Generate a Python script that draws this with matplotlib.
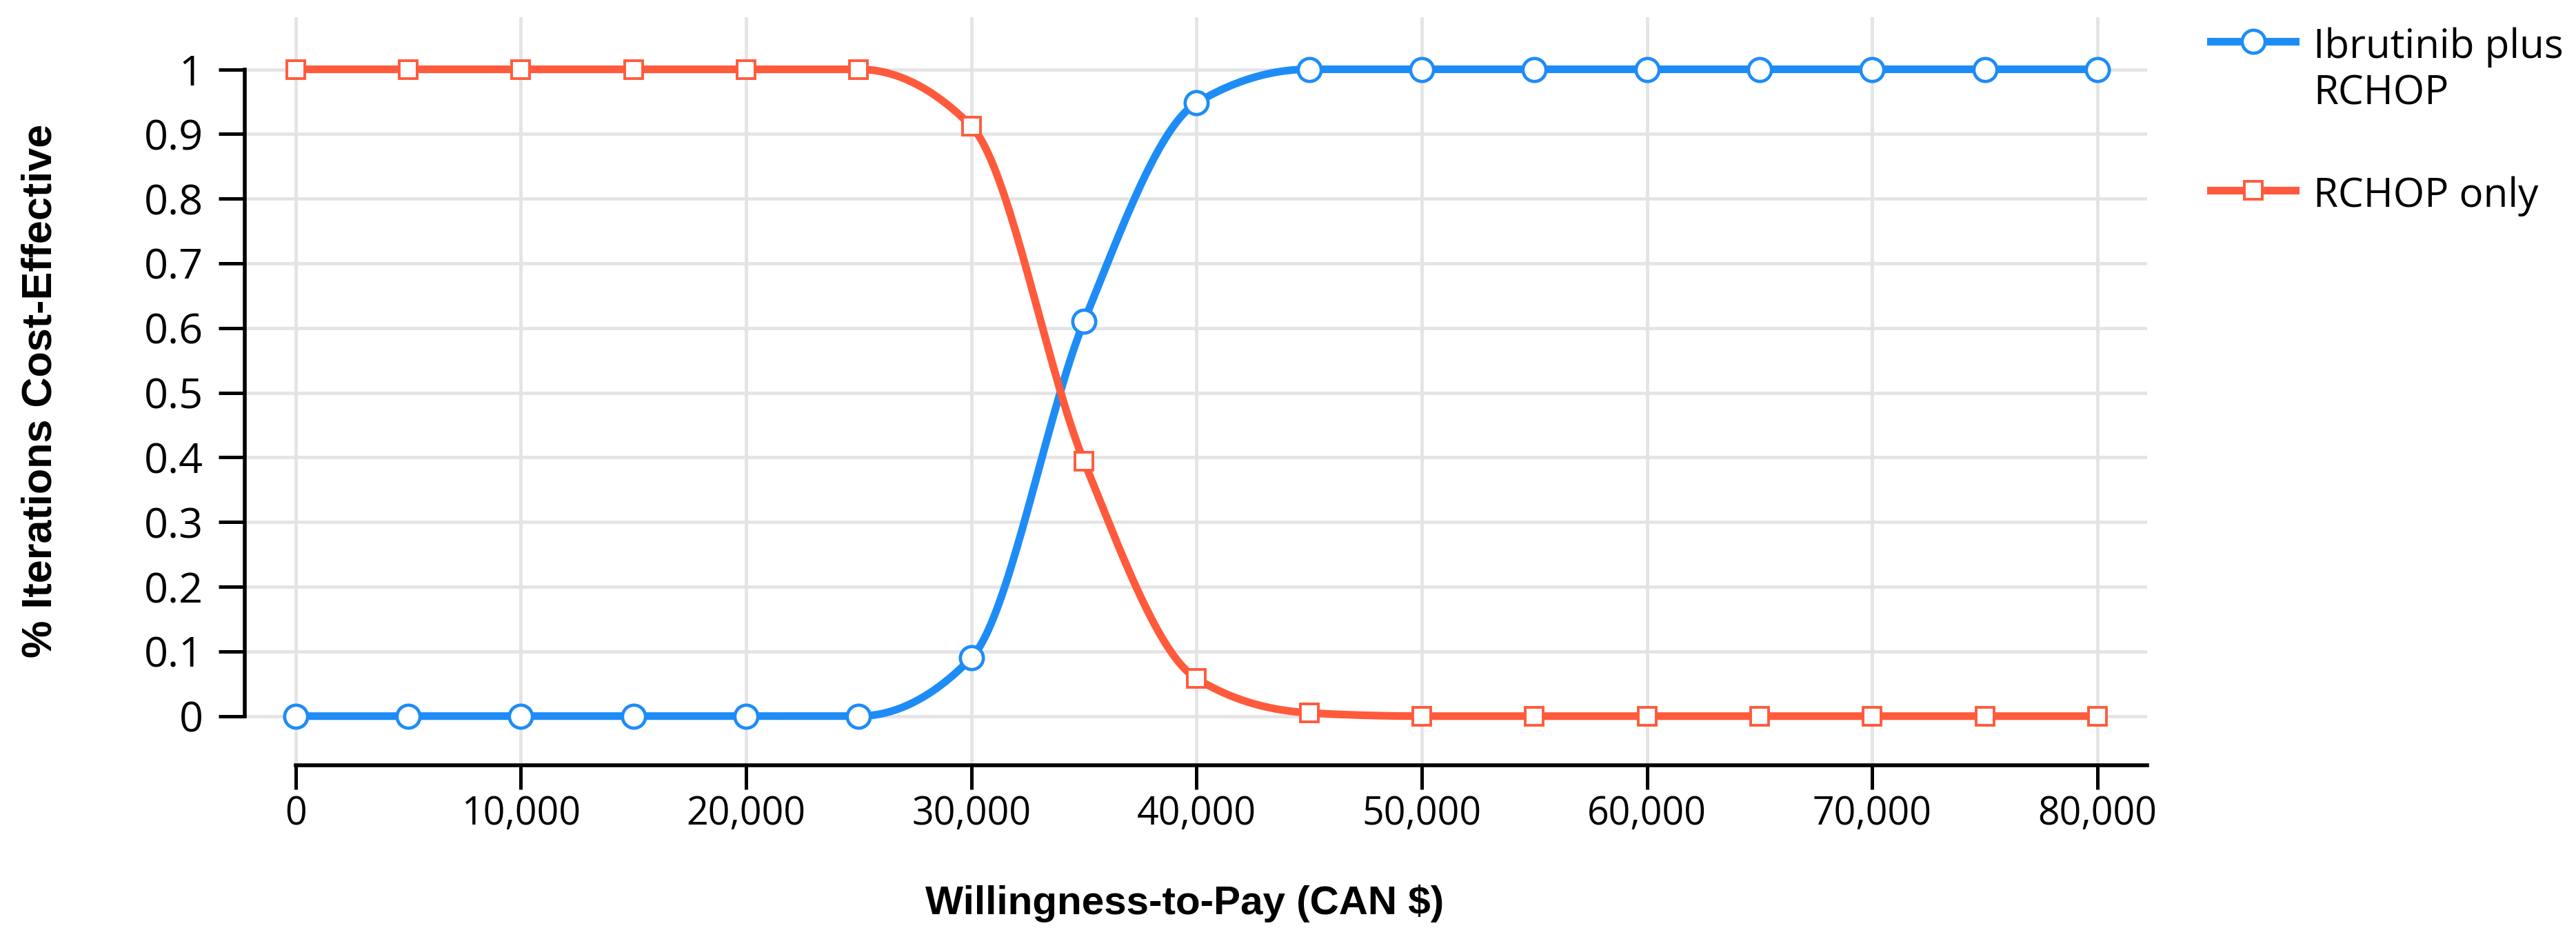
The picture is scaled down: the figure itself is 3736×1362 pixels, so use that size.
import numpy as np
import matplotlib.pyplot as plt
from matplotlib.ticker import FuncFormatter

# values
wtp = [0, 5000, 10000, 15000, 20000, 25000, 30000, 35000, 40000,
       45000, 50000, 55000, 60000, 65000, 70000, 75000, 80000]
ibrutinib_rchop = [0, 0, 0, 0, 0, 0, 0.09, 0.61, 0.948, 1.0,
                   1.0, 1.0, 1.0, 1.0, 1.0, 1.0, 1.0]
rchop_only = [1.0, 1.0, 1.0, 1.0, 1.0, 1.0, 0.912, 0.394, 0.058, 0.005,
              0, 0, 0, 0, 0, 0, 0]
series_names = ["Ibrutinib plus\nRCHOP", "RCHOP only"]
blue = "#1e8cf7"
red = "#ff5a3c"


def monotone_curve(x, y, n=40):
    # smooth monotone (d3 curveMonotoneX style) line through the points
    x = np.asarray(x, float)
    y = np.asarray(y, float)
    h = np.diff(x)
    s = np.diff(y) / h
    t = np.zeros_like(y)
    for i in range(1, len(x) - 1):
        p = (s[i - 1] * h[i] + s[i] * h[i - 1]) / (h[i - 1] + h[i])
        t[i] = (np.sign(s[i - 1]) + np.sign(s[i])) * min(abs(s[i - 1]), abs(s[i]), 0.5 * abs(p))
    t[0] = (3 * s[0] - t[1]) / 2
    t[-1] = (3 * s[-1] - t[-2]) / 2
    xs, ys = [], []
    for i in range(len(x) - 1):
        u = np.linspace(0, 1, n, endpoint=False)
        h00 = 2 * u**3 - 3 * u**2 + 1
        h10 = u**3 - 2 * u**2 + u
        h01 = -2 * u**3 + 3 * u**2
        h11 = u**3 - u**2
        xs.append(x[i] + u * h[i])
        ys.append(h00 * y[i] + h10 * h[i] * t[i] + h01 * y[i + 1] + h11 * h[i] * t[i + 1])
    xs.append([x[-1]])
    ys.append([y[-1]])
    return np.concatenate(xs), np.concatenate(ys)


fig = plt.figure(figsize=(18.68, 6.81), dpi=200)
ax = fig.add_axes([0.095, 0.185, 0.7385, 0.797])

for vals, name, col, mk, ms, mew in [(ibrutinib_rchop, series_names[0], blue, "o", 12, 1.7),
                                     (rchop_only, series_names[1], red, "s", 9.6, 1.4)]:
    cx, cy = monotone_curve(wtp, vals)
    ax.plot(cx, cy, color=col, lw=4, solid_capstyle="butt", zorder=3)
    ax.plot(wtp, vals, linestyle="none", marker=mk, ms=ms, mfc="white",
            mec=col, mew=mew, zorder=4)
    ax.plot([], [], color=col, lw=4, marker=mk, ms=ms, mfc="white",
            mec=col, mew=mew, label=name)

ax.set_xlim(-2260, 82200)
ax.set_ylim(-0.076, 1.081)
ax.set_xticks(range(0, 80001, 10000))
ax.set_yticks(np.arange(0, 1.01, 0.1))
ax.xaxis.set_major_formatter(FuncFormatter(lambda v, p: f"{int(v):,}"))
ax.yaxis.set_major_formatter(FuncFormatter(lambda v, p: "0" if abs(v) < 1e-9 else ("1" if abs(v - 1) < 1e-9 else f"{v:.1f}")))

ax.grid(True, color="#e4e4e4", lw=1.7, zorder=0)
for side in ["top", "right"]:
    ax.spines[side].set_visible(False)
ax.spines["left"].set_bounds(0, 1)
ax.spines["bottom"].set_bounds(0, 82200)
ax.spines["left"].set_linewidth(2)
ax.spines["bottom"].set_linewidth(2)
ax.tick_params(axis="y", length=13.7, width=1.8, color="black", pad=8,
               labelsize=22, labelfontfamily="Open Sans")
ax.tick_params(axis="x", length=12.6, width=1.8, color="black", pad=3,
               labelsize=20, labelfontfamily="Open Sans")

ax.set_xlabel("Willingness-to-Pay (CAN $)", fontsize=21, fontweight="bold",
              family="Liberation Sans", labelpad=26)
ax.xaxis.label.set_x(0.494)
ax.set_ylabel("% Iterations Cost-Effective", fontsize=22, fontweight="bold",
              family="Liberation Sans")
ax.yaxis.set_label_coords(-0.097, 0.5)

leg = fig.legend(loc="upper left", bbox_to_anchor=(0.852, 0.988), frameon=False,
                 prop={"family": "Open Sans", "size": 21}, handlelength=2.1,
                 handletextpad=0.45, labelspacing=1.55, borderaxespad=0)
# put the legend line level with the first text line
for column in leg._legend_handle_box.get_children():
    for item in column.get_children():
        item.align = "top"

fig.savefig("out.png", dpi=200)
